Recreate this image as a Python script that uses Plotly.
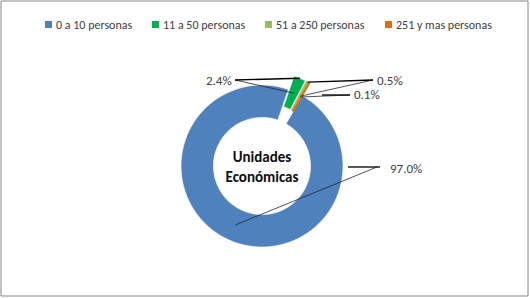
import math
import plotly.graph_objects as go

categories = ["0 a 10 personas", "11 a 50 personas", "51 a 250 personas", "251 y mas personas"]
values = [97.0, 2.4, 0.5, 0.1]
colors = ["#4F81BD", "#00B050", "#9BBB59", "#E46C0A"]
pulls = [0, 0.18, 0.18, 0.18]
center_title = "<b>Unidades<br>Económicas</b>"

W, H = 530, 298
CX, CY, R = 262, 166, 81      # pixel geometry of the donut
HOLE = 0.6
ROT = 29.8
FONT = "Carlito, Lato, sans-serif"
maxpull = max(pulls)
half = R * (1 + maxpull)

def px(x):
    return x / W

def py(y):
    return 1 - y / H

fig = go.Figure()
fig.add_trace(go.Pie(
    labels=categories, values=values, sort=False, direction="clockwise",
    rotation=ROT, hole=HOLE, pull=pulls,
    marker=dict(colors=colors,
                line=dict(color=["white", "white", colors[2], colors[3]],
                          width=[0.6, 0.6, 1.0, 1.6])),
    textinfo="none", hoverinfo="label+percent", showlegend=False,
    domain=dict(x=[px(CX - half), px(CX + half)], y=[py(CY + half), py(CY - half)]),
    title=dict(text=center_title, position="middle center",
               font=dict(family=FONT, size=15, color="#0d0d0d")),
))

# slice mid-angles from data
total = sum(values)
mids = []
acc = 0
for v in values:
    mids.append(ROT + (acc + v / 2) / total * 360)
    acc += v

def pt(i, rad):
    a = math.radians(mids[i])
    d = rad + pulls[i] * R
    return CX + d * math.sin(a), CY - d * math.cos(a)

# data label layout (text anchor position, side, leader start, horizontal tail)
label_pos = [(388, 168, "left"), (234, 80, "right"), (375, 80, "left"), (352, 95, "left")]
label_anchor = [(377, 167), (235, 80), (373, 80), (350, 95)]
tail = [((348, 167), (380, 167)), None, None, ((322, 95), (350, 95))]

shapes = []
annotations = []
mid_r = R * (1 + HOLE) / 2
for i, v in enumerate(values):
    lx, ly, side = label_pos[i]
    annotations.append(dict(x=px(lx), y=py(ly), xref="paper", yref="paper",
                            xanchor=side, yanchor="middle",
                            text=f"{v:.1f}%", showarrow=False,
                            font=dict(family=FONT, size=13, color="#404040")))
    ax, ay = label_anchor[i]
    ix, iy = pt(i, mid_r)
    shapes.append(dict(type="line", xref="paper", yref="paper",
                       x0=px(ax), y0=py(ay), x1=px(ix), y1=py(iy),
                       line=dict(color="#262626", width=0.8)))
    if tail[i] is None:
        ox, oy = pt(i, R)
        x0, y0 = ax, ay
    else:
        (ox, oy), (x0, y0) = tail[i]
    shapes.append(dict(type="line", xref="paper", yref="paper",
                       x0=px(x0), y0=py(y0), x1=px(ox), y1=py(oy),
                       line=dict(color="#000000", width=1.3)))

# legend (drawn to match the original compact legend)
legend_x = [45, 152, 265, 385]
for i, name in enumerate(categories):
    x = legend_x[i]
    shapes.append(dict(type="rect", xref="paper", yref="paper",
                       x0=px(x), y0=py(21), x1=px(x + 7), y1=py(28),
                       fillcolor=colors[i], line=dict(width=0)))
    annotations.append(dict(x=px(x + 9), y=py(25), xref="paper", yref="paper",
                            xanchor="left", yanchor="middle", text=name, showarrow=False,
                            font=dict(family=FONT, size=12, color="#404040")))

shapes.append(dict(type="rect", xref="paper", yref="paper",
                   x0=px(1), y0=py(1), x1=px(528), y1=py(296),
                   line=dict(color="#868686", width=1)))

fig.update_layout(
    width=W, height=H, margin=dict(l=0, r=0, t=0, b=0),
    paper_bgcolor="white", plot_bgcolor="white",
    showlegend=False,
    shapes=shapes, annotations=annotations,
)
fig.write_html("out.html", config={"displayModeBar": False},
               post_script="document.body.style.margin='0';document.body.style.overflow='hidden';")
